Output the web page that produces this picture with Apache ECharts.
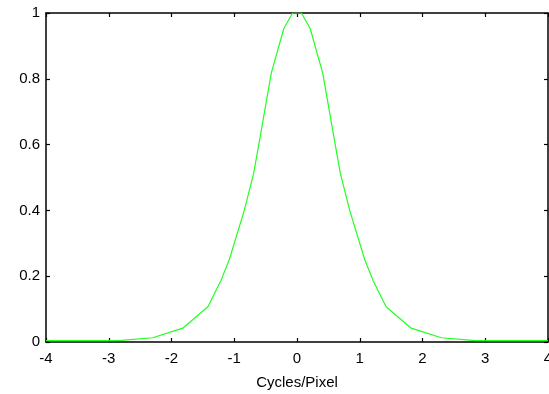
<!DOCTYPE html>
<html>
<head>
<meta charset="utf-8">
<script src="https://cdn.jsdelivr.net/npm/echarts@6/dist/echarts.min.js"></script>
<style>
  html, body { margin: 0; padding: 0; background: #ffffff; }
  #chart { width: 549px; height: 394px; }
</style>
</head>
<body>
<div id="chart"></div>
<script>
// Frequency response samples (cycles/pixel vs. normalized magnitude)
const freq = [-4.0, -3.0, -2.8, -2.3, -1.82, -1.42, -1.21, -1.08, -0.84, -0.69, -0.6, -0.41, -0.21, -0.07,
               0.07, 0.21, 0.41, 0.6, 0.69, 0.84, 1.08, 1.21, 1.42, 1.82, 2.3, 2.8, 3.0, 4.0];
const magnitude = [0.004, 0.004, 0.005, 0.013, 0.042, 0.107, 0.188, 0.25, 0.40, 0.513, 0.61, 0.817, 0.953, 1.0,
                   1.0, 0.953, 0.817, 0.61, 0.513, 0.40, 0.25, 0.188, 0.107, 0.042, 0.013, 0.005, 0.004, 0.004];
const xTicks = [-4, -3, -2, -1, 0, 1, 2, 3, 4];
const yTicks = [0, 0.2, 0.4, 0.6, 0.8, 1];
const xLabel = 'Cycles/Pixel';

const points = freq.map((f, i) => [f, magnitude[i]]);
const font = 'Liberation Sans, Arial, sans-serif';

// Box frame: all four sides drawn as axis lines with short inward ticks
function frameLine() {
  return { show: true, onZero: false, lineStyle: { color: '#000000', width: 1.5 } };
}
function inTicks() {
  return { show: true, inside: true, length: 4, lineStyle: { color: '#000000', width: 1.2 } };
}

const chart = echarts.init(document.getElementById('chart'), null, { renderer: 'canvas' });
chart.setOption({
  animation: false,
  backgroundColor: '#ffffff',
  grid: {
    left: 46, top: 13, right: 1, bottom: 52,
    containLabel: false, outerBoundsMode: 'none'
  },
  xAxis: [
    {
      type: 'value', position: 'bottom',
      min: xTicks[0], max: xTicks[xTicks.length - 1], interval: 1,
      name: xLabel, nameLocation: 'middle', nameGap: 33,
      nameTextStyle: { color: '#000', fontSize: 15, fontFamily: font },
      axisLine: frameLine(),
      axisTick: inTicks(),
      axisLabel: { color: '#000', fontSize: 15, fontFamily: font, margin: 9, showMaxLabel: true, showMinLabel: true, hideOverlap: false },
      splitLine: { show: false }
    },
    {
      type: 'value', position: 'top',
      min: xTicks[0], max: xTicks[xTicks.length - 1], interval: 1,
      axisLine: frameLine(),
      axisTick: inTicks(),
      axisLabel: { show: false },
      splitLine: { show: false }
    }
  ],
  yAxis: [
    {
      type: 'value', position: 'left',
      min: yTicks[0], max: yTicks[yTicks.length - 1], interval: 0.2,
      axisLine: frameLine(),
      axisTick: inTicks(),
      axisLabel: { color: '#000', fontSize: 15, fontFamily: font, margin: 6, hideOverlap: false },
      splitLine: { show: false }
    },
    {
      type: 'value', position: 'right',
      min: yTicks[0], max: yTicks[yTicks.length - 1], interval: 0.2,
      axisLine: frameLine(),
      axisTick: inTicks(),
      axisLabel: { show: false },
      splitLine: { show: false }
    }
  ],
  series: [
    {
      type: 'line',
      data: points,
      xAxisIndex: 0, yAxisIndex: 0,
      showSymbol: false,
      smooth: false,
      lineStyle: { color: '#22ff22', width: 1.2 },
      clip: true,
      z: 3
    }
  ]
});
</script>
</body>
</html>
